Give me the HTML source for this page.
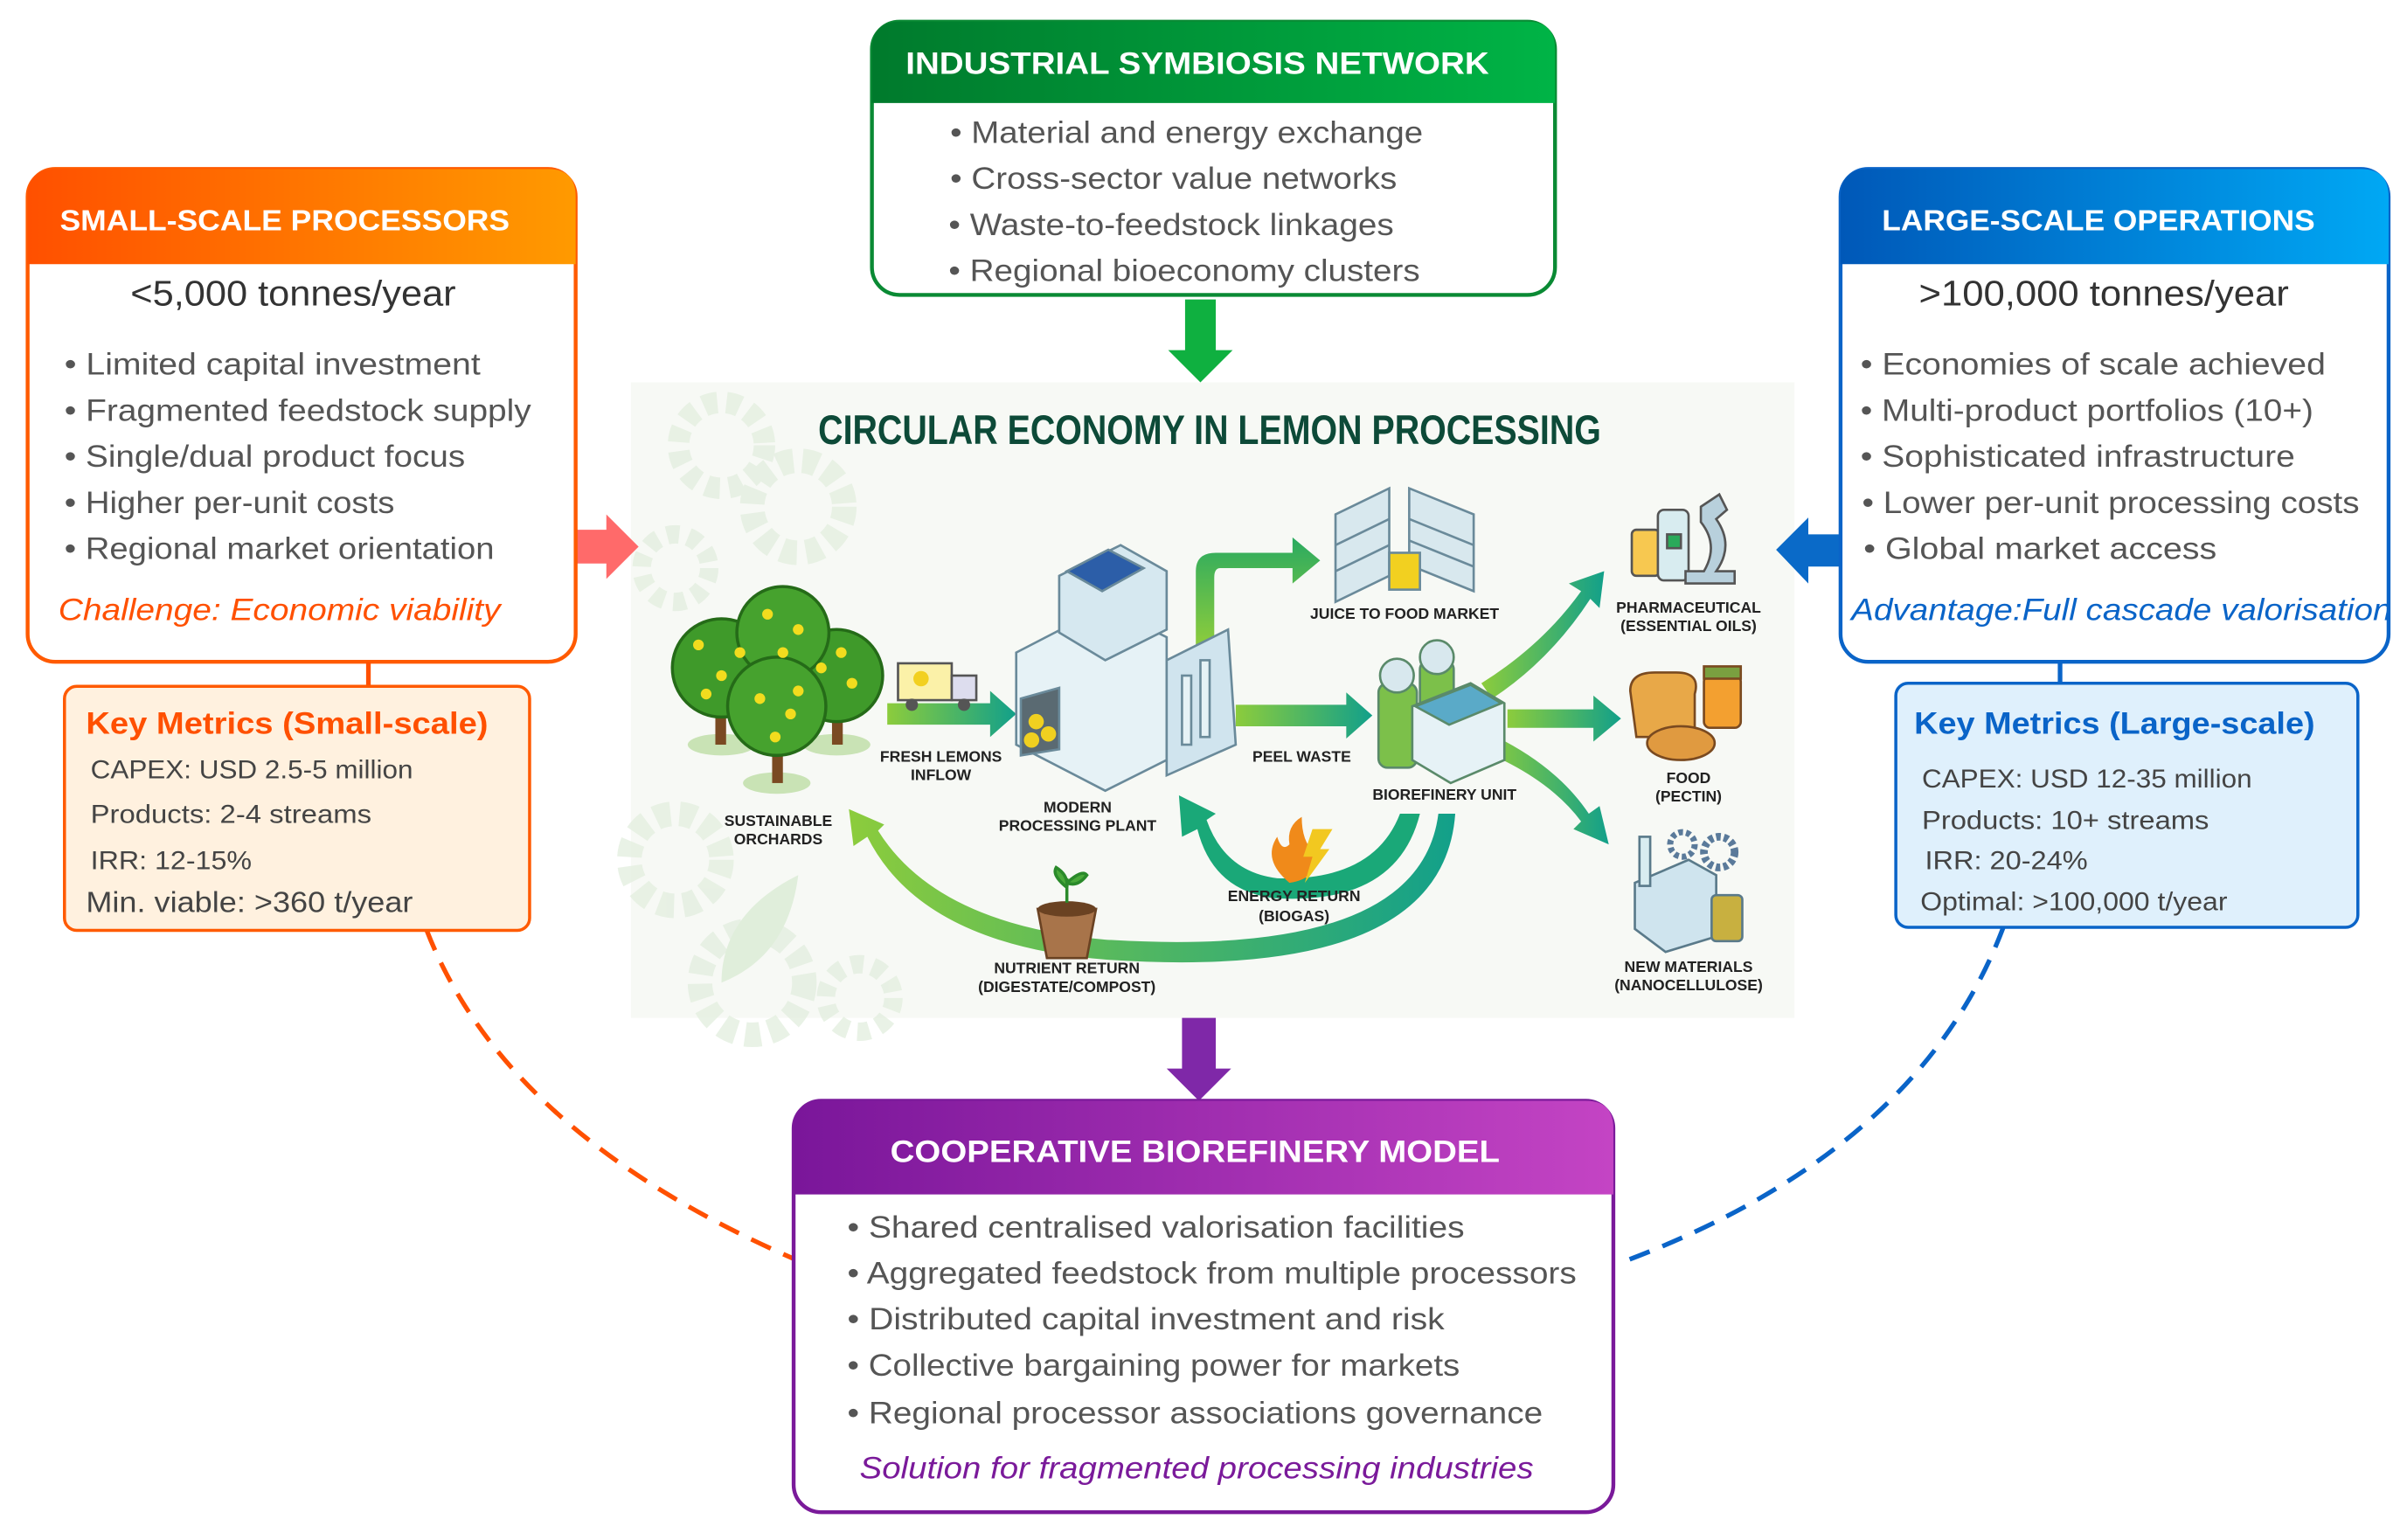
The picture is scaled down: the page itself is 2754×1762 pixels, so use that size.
<!DOCTYPE html>
<html><head><meta charset="utf-8">
<style>
html,body{margin:0;padding:0;background:#fff;}
svg{display:block;}
text{font-family:"Liberation Sans",sans-serif;}
</style></head>
<body>
<svg width="2754" height="1762" viewBox="0 0 1568 1003" xmlns="http://www.w3.org/2000/svg">
<defs>
<linearGradient id="gOr" x1="0" x2="1"><stop offset="0" stop-color="#ff5000"/><stop offset="1" stop-color="#ff9a00"/></linearGradient>
<linearGradient id="gGr" x1="0" x2="1"><stop offset="0" stop-color="#007a2c"/><stop offset="1" stop-color="#00b446"/></linearGradient>
<linearGradient id="gBl" x1="0" x2="1"><stop offset="0" stop-color="#0058b8"/><stop offset="1" stop-color="#00a8f4"/></linearGradient>
<linearGradient id="gPu" x1="0" x2="1"><stop offset="0" stop-color="#7a169a"/><stop offset="1" stop-color="#c444c4"/></linearGradient>
<linearGradient id="gAr" x1="0" x2="1"><stop offset="0" stop-color="#8ccc3c"/><stop offset="1" stop-color="#12a08a"/></linearGradient>
<linearGradient id="gAr2" x1="0" x2="0" y1="1" y2="0"><stop offset="0" stop-color="#8ccc3c"/><stop offset="1" stop-color="#2aaa60"/></linearGradient>
</defs>

<rect x="411" y="249" width="758" height="414" fill="#f7f9f5"/>
<g fill="none" stroke="#e4efe0" opacity="0.8">
<circle cx="470" cy="290" r="28" stroke-width="14" stroke-dasharray="9 6"/>
<circle cx="520" cy="330" r="30" stroke-width="16" stroke-dasharray="10 6"/>
<circle cx="440" cy="370" r="22" stroke-width="12" stroke-dasharray="8 6"/>
<circle cx="440" cy="560" r="30" stroke-width="16" stroke-dasharray="10 6"/>
<circle cx="490" cy="640" r="34" stroke-width="16" stroke-dasharray="10 6"/>
<circle cx="560" cy="650" r="22" stroke-width="12" stroke-dasharray="8 6"/>
</g>
<path d="M470,640 C470,600 500,580 520,570 C515,610 495,630 470,640Z" fill="#e0eedb"/>
<text x="788" y="289" text-anchor="middle" font-size="27" font-weight="bold" fill="#0d4a38" textLength="510" lengthAdjust="spacingAndGlyphs">CIRCULAR ECONOMY IN LEMON PROCESSING</text>

<path d="M578,458 L645,458 L645,450 L662,465 L645,480 L645,472 L578,472Z" fill="url(#gAr)"/>
<path d="M805,459 L877,459 L877,451 L894,466 L877,481 L877,473 L805,473Z" fill="url(#gAr)"/>
<path d="M779,420 L779,372 Q779,360 792,360 L842,360 L842,350 L860,365 L842,380 L842,370 L795,370 Q791,370 791,376 L791,420Z" fill="url(#gAr2)"/>
<path d="M965,445 Q1005,420 1030,385 L1022,380 L1045,372 L1042,396 L1036,390 Q1010,430 972,455Z" fill="url(#gAr)"/>
<path d="M982,462 L1038,462 L1038,453 L1056,468 L1038,483 L1038,474 L982,474Z" fill="url(#gAr)"/>
<path d="M975,480 Q1015,500 1035,530 L1042,525 L1048,550 L1025,540 L1030,535 Q1010,508 968,490Z" fill="url(#gAr)"/>
<path d="M925,530 Q910,590 830,585 Q790,580 780,540 L770,545 L768,518 L792,530 L786,534 Q798,568 832,572 Q895,574 912,530Z" fill="#1aa878"/>
<path d="M948,530 Q940,640 720,625 Q600,615 565,545 L556,551 L553,527 L576,537 L572,541 Q610,602 720,612 Q925,625 937,530Z" fill="url(#gAr)"/>

<g>
<ellipse cx="470" cy="485" rx="22" ry="7" fill="#c9e3b5"/><ellipse cx="545" cy="485" rx="22" ry="7" fill="#c9e3b5"/><ellipse cx="506" cy="510" rx="22" ry="7" fill="#c9e3b5"/>
<rect x="466" y="450" width="7" height="35" fill="#7a4a22"/><rect x="542" y="450" width="7" height="35" fill="#7a4a22"/><rect x="503" y="470" width="7" height="40" fill="#7a4a22"/>
<circle cx="470" cy="435" r="32" fill="#3f9a2a" stroke="#256b18" stroke-width="2"/>
<circle cx="545" cy="440" r="30" fill="#3f9a2a" stroke="#256b18" stroke-width="2"/>
<circle cx="510" cy="412" r="30" fill="#46a22e" stroke="#256b18" stroke-width="2"/>
<circle cx="506" cy="460" r="32" fill="#46a22e" stroke="#256b18" stroke-width="2"/>
<g fill="#f2dc1e">
<circle cx="455" cy="420" r="3.5"/><circle cx="470" cy="440" r="3.5"/><circle cx="482" cy="425" r="3.5"/><circle cx="460" cy="452" r="3.5"/>
<circle cx="500" cy="400" r="3.5"/><circle cx="520" cy="410" r="3.5"/><circle cx="510" cy="425" r="3.5"/>
<circle cx="535" cy="435" r="3.5"/><circle cx="555" cy="445" r="3.5"/><circle cx="548" cy="425" r="3.5"/>
<circle cx="495" cy="455" r="3.5"/><circle cx="515" cy="465" r="3.5"/><circle cx="505" cy="480" r="3.5"/><circle cx="520" cy="450" r="3.5"/>
</g>
</g>
<rect x="585" y="432" width="35" height="24" fill="#fbf1a8" stroke="#555" stroke-width="1.5"/>
<rect x="620" y="440" width="16" height="16" fill="#dde" stroke="#555" stroke-width="1.5"/>
<circle cx="594" cy="459" r="4" fill="#555"/><circle cx="628" cy="459" r="4" fill="#555"/>
<circle cx="600" cy="442" r="5" fill="#f2d020"/>
<g stroke="#6a8a9a" stroke-width="1.5">
<polygon points="662,425 720,395 760,415 760,495 720,515 662,485" fill="#e6f2f6"/>
<polygon points="690,375 730,355 760,372 760,410 720,430 690,412" fill="#d6e8f0"/>
<polygon points="695,372 722,358 745,370 718,385" fill="#2c5ea8"/>
<polygon points="760,430 800,410 805,485 760,505" fill="#d0e4ee"/>
<rect x="770" y="440" width="6" height="45" fill="#e6f2f6"/><rect x="782" y="430" width="6" height="50" fill="#e6f2f6"/>
<polygon points="665,455 690,448 690,488 665,492" fill="#5a6a72"/>
</g>
<circle cx="675" cy="470" r="5" fill="#f0d020"/><circle cx="683" cy="478" r="5" fill="#f0d020"/><circle cx="672" cy="482" r="5" fill="#f0d020"/>
<g stroke="#6a8a9a" stroke-width="1.5">
<polygon points="870,335 905,318 905,375 870,392" fill="#d8e8ee"/>
<polygon points="918,318 960,335 960,385 918,368" fill="#d8e8ee"/>
<line x1="870" y1="355" x2="905" y2="338"/><line x1="870" y1="372" x2="905" y2="355"/>
<line x1="918" y1="338" x2="960" y2="355"/><line x1="918" y1="352" x2="960" y2="369"/>
<rect x="905" y="360" width="20" height="24" fill="#f2d020"/>
</g>
<g stroke="#5a8a6a" stroke-width="1.5">
<rect x="898" y="445" width="25" height="55" rx="6" fill="#7cc04a"/>
<circle cx="910" cy="440" r="11" fill="#d8e8ee"/>
<rect x="925" y="430" width="22" height="50" rx="6" fill="#7cc04a"/>
<circle cx="936" cy="428" r="11" fill="#d8e8ee"/>
<polygon points="920,460 958,445 980,458 980,495 945,510 920,495" fill="#e6f2f6"/>
<polygon points="922,460 958,446 978,458 944,472" fill="#5aaac8"/>
</g>
<g stroke="#555" stroke-width="1.5">
<rect x="1063" y="345" width="18" height="30" rx="3" fill="#f7c850"/>
<rect x="1080" y="332" width="20" height="46" rx="4" fill="#d8ecf0"/>
<rect x="1086" y="348" width="9" height="9" fill="#2aaa5a"/>
<path d="M1108,330 L1120,322 L1125,332 L1118,338 Q1130,355 1118,372 L1130,372 L1130,380 L1098,380 L1098,372 L1110,372 Q1120,355 1108,340Z" fill="#b8d0dc"/>
</g>
<g stroke="#7a4a20" stroke-width="1.5">
<path d="M1062,450 Q1062,438 1078,438 L1092,438 Q1108,438 1104,452 L1104,480 L1066,480Z" fill="#e8a848"/>
<rect x="1110" y="440" width="24" height="34" rx="4" fill="#f3a030"/>
<rect x="1110" y="434" width="24" height="8" fill="#7aa040"/>
<ellipse cx="1095" cy="484" rx="22" ry="11" fill="#e09a40"/>
</g>
<g stroke="#5a7a8a" stroke-width="1.5">
<polygon points="1065,575 1100,560 1118,570 1118,610 1085,620 1065,605" fill="#cfe4ee"/>
<rect x="1068" y="545" width="7" height="32" fill="#d8ecf0"/>
<circle cx="1096" cy="550" r="8" fill="none" stroke-width="4" stroke-dasharray="3 2" stroke="#5a7a9a"/>
<circle cx="1120" cy="555" r="10" fill="none" stroke-width="5" stroke-dasharray="3 2" stroke="#5a7a9a"/>
<rect x="1115" y="583" width="20" height="30" rx="3" fill="#c8b040"/>
</g>
<path d="M840,575 Q822,560 832,545 Q835,555 840,550 Q838,538 848,532 Q848,548 856,555 Q860,572 840,575Z" fill="#f08a1a"/>
<path d="M855,540 L868,540 L860,553 L866,553 L850,575 L855,558 L849,558Z" fill="#f2c820"/>
<path d="M676,592 L714,592 L708,624 L682,624Z" fill="#a8744a" stroke="#6a4222" stroke-width="1.5"/>
<ellipse cx="695" cy="592" rx="19" ry="5" fill="#6a4222"/>
<path d="M695,588 L695,572 M695,578 Q685,570 688,565 Q696,570 695,578 M695,575 Q705,566 708,570 Q702,578 695,575" stroke="#2a8a2a" stroke-width="2" fill="#4aaa3a"/>

<g font-size="10" font-weight="bold" fill="#222" text-anchor="middle">
<text x="507" y="538">SUSTAINABLE</text><text x="507" y="550">ORCHARDS</text>
<text x="613" y="496">FRESH LEMONS</text><text x="613" y="508">INFLOW</text>
<text x="702" y="529">MODERN</text><text x="702" y="541">PROCESSING PLANT</text>
<text x="915" y="403">JUICE TO FOOD MARKET</text>
<text x="848" y="496">PEEL WASTE</text>
<text x="941" y="521">BIOREFINERY UNIT</text>
<text x="1100" y="399">PHARMACEUTICAL</text><text x="1100" y="411">(ESSENTIAL OILS)</text>
<text x="1100" y="510">FOOD</text><text x="1100" y="522">(PECTIN)</text>
<text x="1100" y="633">NEW MATERIALS</text><text x="1100" y="645">(NANOCELLULOSE)</text>
<text x="843" y="587">ENERGY RETURN</text><text x="843" y="600">(BIOGAS)</text>
<text x="695" y="634">NUTRIENT RETURN</text><text x="695" y="646">(DIGESTATE/COMPOST)</text>
</g>

<path d="M772,195 L792,195 L792,228 L803,228 L782,249 L761,228 L772,228Z" fill="#0fb040"/>
<path d="M374,345 L395,345 L395,335 L416,356 L395,377 L395,367 L374,367Z" fill="#ff6a6a"/>
<path d="M1199,348 L1178,348 L1178,337 L1157,358 L1178,380 L1178,369 L1199,369Z" fill="#0a6ac8"/>
<path d="M770,663 L792,663 L792,696 L802,696 L781,717 L760,696 L770,696Z" fill="#7f28a8"/>

<path d="M278,606 Q330,740 522,822" fill="none" stroke="#ff5000" stroke-width="3" stroke-dasharray="14 9"/>
<path d="M1305,604 Q1250,750 1057,822" fill="none" stroke="#0a64c8" stroke-width="3" stroke-dasharray="14 9"/>

<g lengthAdjust="spacingAndGlyphs">
<rect x="18" y="110" width="357" height="321" rx="18" fill="#fff" stroke="#ff5a00" stroke-width="2.5"/>
<path d="M18,172 L18,128 Q18,110 36,110 L357,110 Q375,110 375,128 L375,172Z" fill="url(#gOr)"/>
<text x="39" y="150" font-size="19" font-weight="bold" fill="#fff" textLength="293" lengthAdjust="spacingAndGlyphs">SMALL-SCALE PROCESSORS</text>
<text x="85" y="199" font-size="23" fill="#333" textLength="212" lengthAdjust="spacingAndGlyphs">&lt;5,000 tonnes/year</text>
<g font-size="20" fill="#555">
<text x="42" y="244" textLength="271" lengthAdjust="spacingAndGlyphs">• Limited capital investment</text>
<text x="42" y="274" textLength="304" lengthAdjust="spacingAndGlyphs">• Fragmented feedstock supply</text>
<text x="42" y="304" textLength="261" lengthAdjust="spacingAndGlyphs">• Single/dual product focus</text>
<text x="42" y="334" textLength="215" lengthAdjust="spacingAndGlyphs">• Higher per-unit costs</text>
<text x="42" y="364" textLength="280" lengthAdjust="spacingAndGlyphs">• Regional market orientation</text>
</g>
<text x="38" y="404" font-size="20" font-style="italic" fill="#ff5000" textLength="288" lengthAdjust="spacingAndGlyphs">Challenge: Economic viability</text>
<line x1="240" y1="431" x2="240" y2="447" stroke="#ff5000" stroke-width="3"/>
<rect x="42" y="447" width="303" height="159" rx="8" fill="#fff1df" stroke="#ff5a00" stroke-width="2"/>
<text x="56" y="478" font-size="20" font-weight="bold" fill="#ff5000" textLength="262" lengthAdjust="spacingAndGlyphs">Key Metrics (Small-scale)</text>
<g font-size="17" fill="#444">
<text x="59" y="507" textLength="210" lengthAdjust="spacingAndGlyphs">CAPEX: USD 2.5-5 million</text>
<text x="59" y="536" textLength="183" lengthAdjust="spacingAndGlyphs">Products: 2-4 streams</text>
<text x="59" y="566" textLength="105" lengthAdjust="spacingAndGlyphs">IRR: 12-15%</text>
<text x="56" y="594" font-size="19" textLength="213" lengthAdjust="spacingAndGlyphs">Min. viable: &gt;360 t/year</text>
</g>

<rect x="568" y="14" width="445" height="178" rx="18" fill="#fff" stroke="#0a8a34" stroke-width="2.5"/>
<path d="M568,67 L568,32 Q568,14 586,14 L995,14 Q1013,14 1013,32 L1013,67Z" fill="url(#gGr)"/>
<text x="590" y="48" font-size="20" font-weight="bold" fill="#fff" textLength="380" lengthAdjust="spacingAndGlyphs">INDUSTRIAL SYMBIOSIS NETWORK</text>
<g font-size="20" fill="#555">
<text x="619" y="93" textLength="308" lengthAdjust="spacingAndGlyphs">• Material and energy exchange</text>
<text x="619" y="123" textLength="291" lengthAdjust="spacingAndGlyphs">• Cross-sector value networks</text>
<text x="618" y="153" textLength="290" lengthAdjust="spacingAndGlyphs">• Waste-to-feedstock linkages</text>
<text x="618" y="183" textLength="307" lengthAdjust="spacingAndGlyphs">• Regional bioeconomy clusters</text>
</g>

<rect x="1199" y="110" width="357" height="321" rx="18" fill="#fff" stroke="#0a64c8" stroke-width="2.5"/>
<path d="M1199,172 L1199,128 Q1199,110 1217,110 L1538,110 Q1556,110 1556,128 L1556,172Z" fill="url(#gBl)"/>
<text x="1226" y="150" font-size="19" font-weight="bold" fill="#fff" textLength="282" lengthAdjust="spacingAndGlyphs">LARGE-SCALE OPERATIONS</text>
<text x="1250" y="199" font-size="23" fill="#333" textLength="241" lengthAdjust="spacingAndGlyphs">&gt;100,000 tonnes/year</text>
<g font-size="20" fill="#555">
<text x="1212" y="244" textLength="303" lengthAdjust="spacingAndGlyphs">• Economies of scale achieved</text>
<text x="1212" y="274" textLength="295" lengthAdjust="spacingAndGlyphs">• Multi-product portfolios (10+)</text>
<text x="1212" y="304" textLength="283" lengthAdjust="spacingAndGlyphs">• Sophisticated infrastructure</text>
<text x="1213" y="334" textLength="324" lengthAdjust="spacingAndGlyphs">• Lower per-unit processing costs</text>
<text x="1214" y="364" textLength="230" lengthAdjust="spacingAndGlyphs">• Global market access</text>
</g>
<text x="1206" y="404" font-size="20" font-style="italic" fill="#0a64c8" textLength="352" lengthAdjust="spacingAndGlyphs">Advantage:Full cascade valorisation</text>
<line x1="1342" y1="431" x2="1342" y2="445" stroke="#0a64c8" stroke-width="3"/>
<rect x="1235" y="445" width="301" height="159" rx="8" fill="#dff0fc" stroke="#0a64c8" stroke-width="2"/>
<text x="1247" y="478" font-size="20" font-weight="bold" fill="#0a64c8" textLength="261" lengthAdjust="spacingAndGlyphs">Key Metrics (Large-scale)</text>
<g font-size="17" fill="#444">
<text x="1252" y="513" textLength="215" lengthAdjust="spacingAndGlyphs">CAPEX: USD 12-35 million</text>
<text x="1252" y="540" textLength="187" lengthAdjust="spacingAndGlyphs">Products: 10+ streams</text>
<text x="1254" y="566" textLength="106" lengthAdjust="spacingAndGlyphs">IRR: 20-24%</text>
<text x="1251" y="593" textLength="200" lengthAdjust="spacingAndGlyphs">Optimal: &gt;100,000 t/year</text>
</g>

<rect x="517" y="717" width="534" height="268" rx="18" fill="#fff" stroke="#7a1a9a" stroke-width="2.5"/>
<path d="M517,778 L517,735 Q517,717 535,717 L1033,717 Q1051,717 1051,735 L1051,778Z" fill="url(#gPu)"/>
<text x="580" y="757" font-size="20" font-weight="bold" fill="#fff" textLength="397" lengthAdjust="spacingAndGlyphs">COOPERATIVE BIOREFINERY MODEL</text>
<g font-size="20" fill="#555">
<text x="552" y="806" textLength="402" lengthAdjust="spacingAndGlyphs">• Shared centralised valorisation facilities</text>
<text x="552" y="836" textLength="475" lengthAdjust="spacingAndGlyphs">• Aggregated feedstock from multiple processors</text>
<text x="552" y="866" textLength="389" lengthAdjust="spacingAndGlyphs">• Distributed capital investment and risk</text>
<text x="552" y="896" textLength="399" lengthAdjust="spacingAndGlyphs">• Collective bargaining power for markets</text>
<text x="552" y="927" textLength="453" lengthAdjust="spacingAndGlyphs">• Regional processor associations governance</text>
</g>
<text x="560" y="963" font-size="20" font-style="italic" fill="#7a1a9a" textLength="439" lengthAdjust="spacingAndGlyphs">Solution for fragmented processing industries</text>
</g>
</svg>
</body></html>
